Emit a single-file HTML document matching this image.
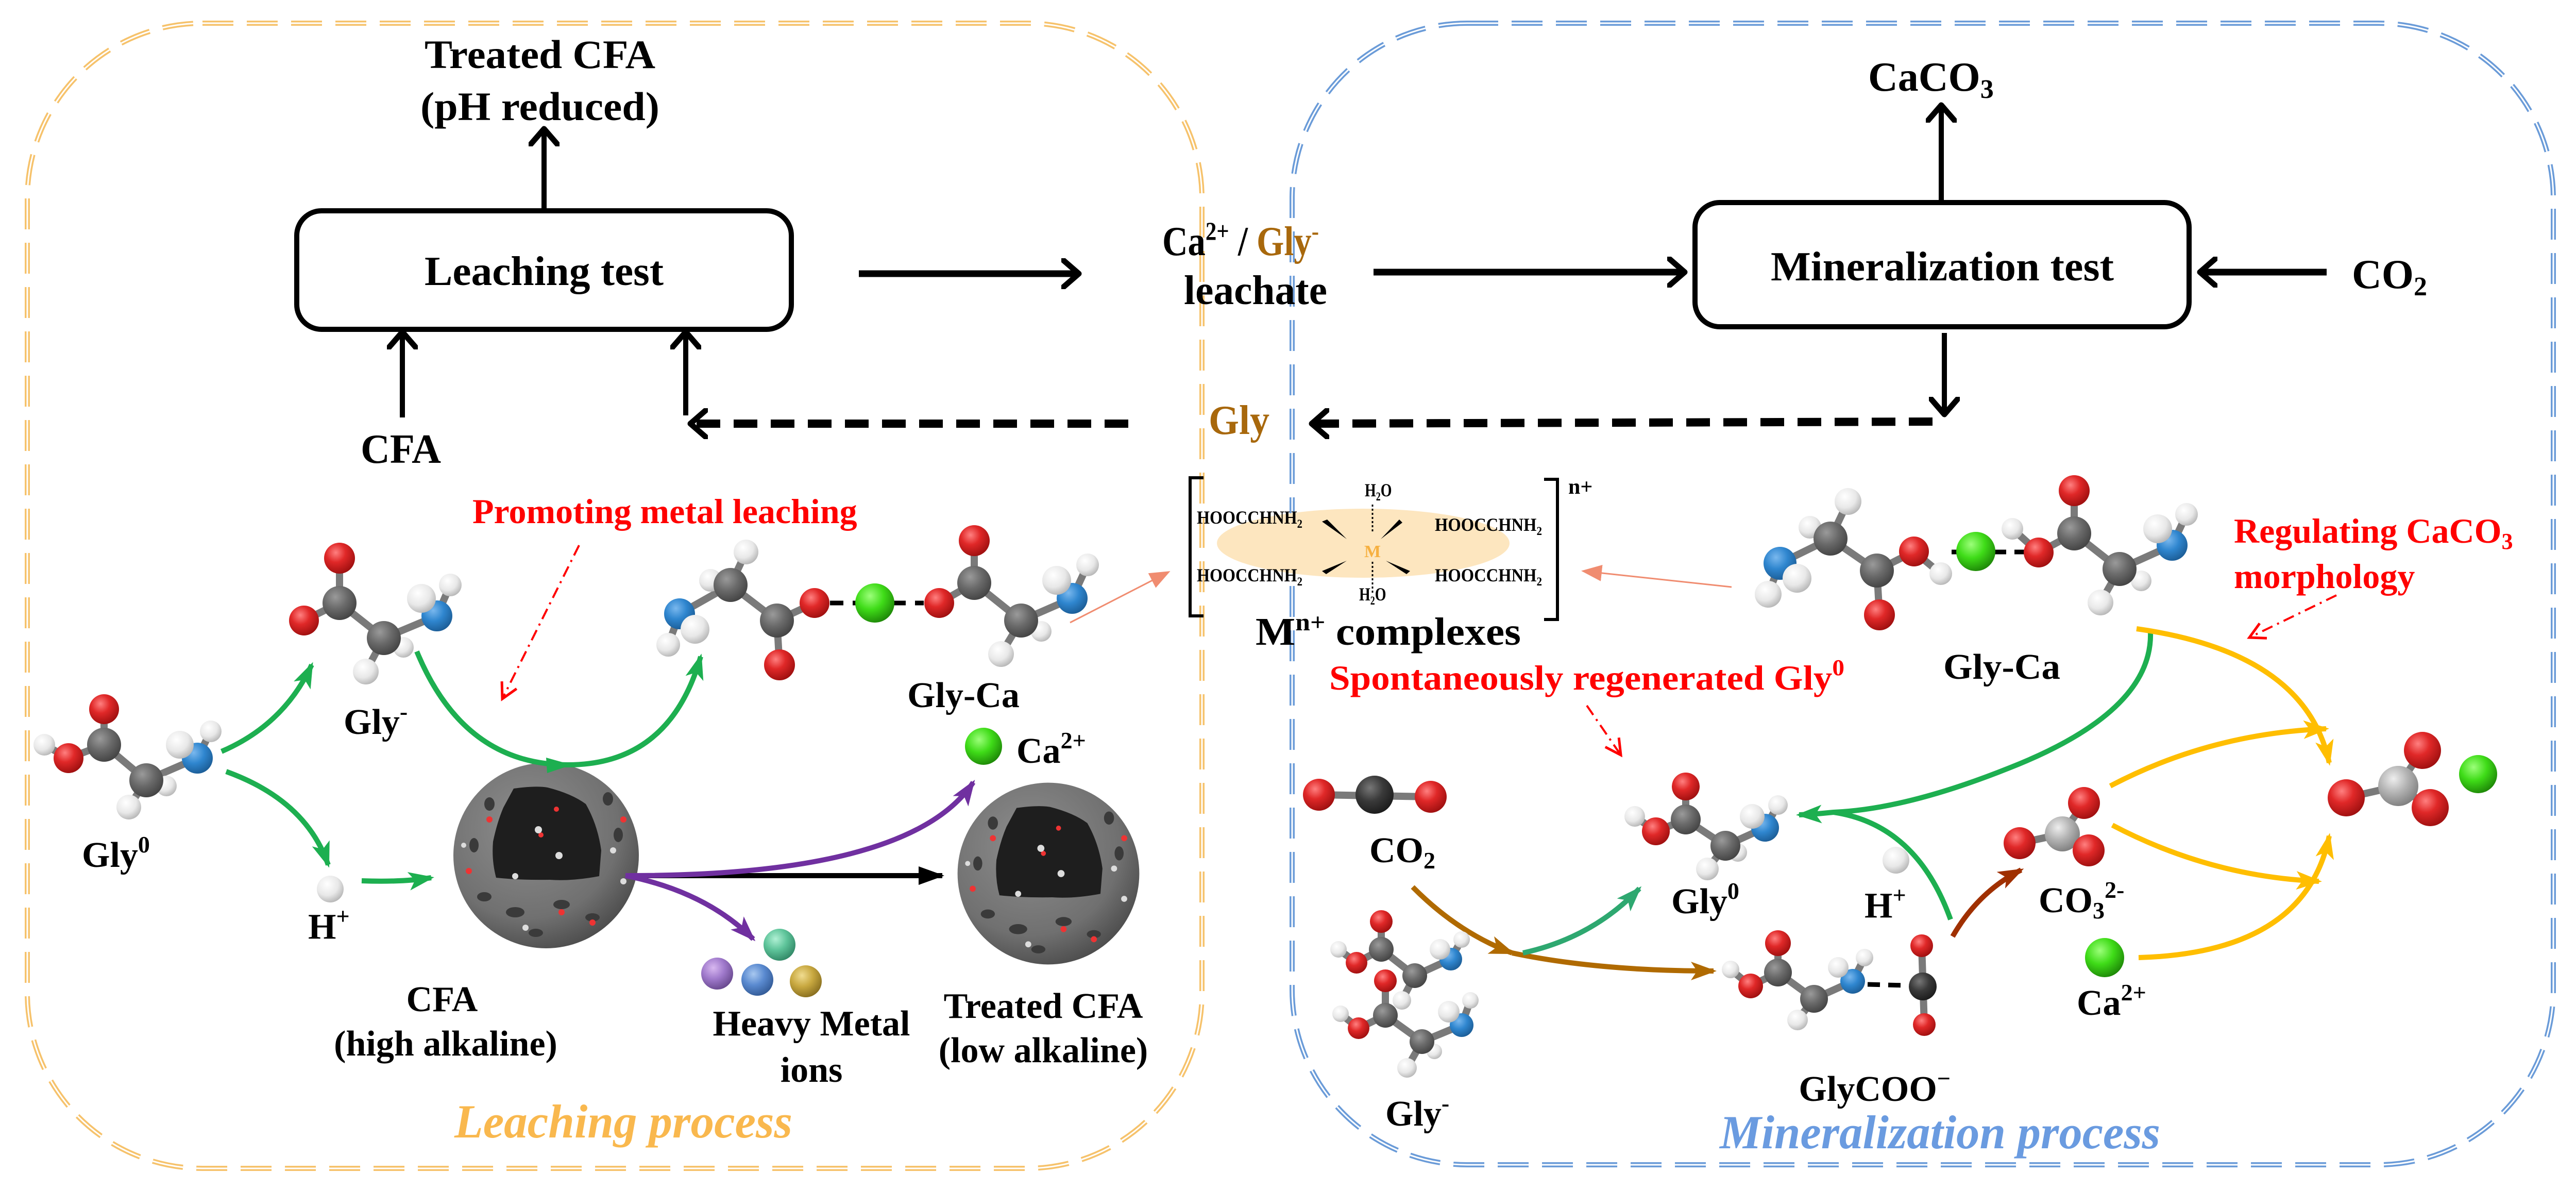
<!DOCTYPE html>
<html><head><meta charset="utf-8"><style>
html,body{margin:0;padding:0;background:#fff;}
svg{display:block;}
text{font-family:"Liberation Serif",serif;font-weight:bold;}
.b line{stroke:#7a7a7a;stroke-width:14;stroke-linecap:round;}
</style></head><body>
<svg width="5020" height="2307" viewBox="0 0 5020 2307" xmlns="http://www.w3.org/2000/svg">
<defs>
<radialGradient id="gR" cx="38%" cy="32%" r="70%"><stop offset="0" stop-color="#ff8080"/><stop offset=".45" stop-color="#e02828"/><stop offset="1" stop-color="#a01010"/></radialGradient>
<radialGradient id="gC" cx="38%" cy="32%" r="70%"><stop offset="0" stop-color="#9a9a9a"/><stop offset=".5" stop-color="#6a6a6a"/><stop offset="1" stop-color="#444"/></radialGradient>
<radialGradient id="gK" cx="38%" cy="32%" r="70%"><stop offset="0" stop-color="#777"/><stop offset=".5" stop-color="#3a3a3a"/><stop offset="1" stop-color="#1c1c1c"/></radialGradient>
<radialGradient id="gL" cx="38%" cy="32%" r="70%"><stop offset="0" stop-color="#eee"/><stop offset=".5" stop-color="#b4b4b4"/><stop offset="1" stop-color="#808080"/></radialGradient>
<radialGradient id="gN" cx="38%" cy="32%" r="70%"><stop offset="0" stop-color="#7ab8ee"/><stop offset=".5" stop-color="#2f86cf"/><stop offset="1" stop-color="#1c5e98"/></radialGradient>
<radialGradient id="gH" cx="38%" cy="32%" r="70%"><stop offset="0" stop-color="#fff"/><stop offset=".6" stop-color="#e8e8e8"/><stop offset="1" stop-color="#b8b8b8"/></radialGradient>
<radialGradient id="gG" cx="38%" cy="32%" r="70%"><stop offset="0" stop-color="#9cff7a"/><stop offset=".5" stop-color="#3fdc18"/><stop offset="1" stop-color="#1f8a08"/></radialGradient>
<radialGradient id="gP" cx="38%" cy="32%" r="70%"><stop offset="0" stop-color="#d8b8f0"/><stop offset=".5" stop-color="#a07acc"/><stop offset="1" stop-color="#6a4a90"/></radialGradient>
<radialGradient id="gT" cx="38%" cy="32%" r="70%"><stop offset="0" stop-color="#b0f0d4"/><stop offset=".5" stop-color="#5ec49a"/><stop offset="1" stop-color="#338a68"/></radialGradient>
<radialGradient id="gB" cx="38%" cy="32%" r="70%"><stop offset="0" stop-color="#a8c8f0"/><stop offset=".5" stop-color="#5a8ad0"/><stop offset="1" stop-color="#345c98"/></radialGradient>
<radialGradient id="gY" cx="38%" cy="32%" r="70%"><stop offset="0" stop-color="#f0dc90"/><stop offset=".5" stop-color="#c8a840"/><stop offset="1" stop-color="#8a7020"/></radialGradient>
<radialGradient id="gS" cx="40%" cy="35%" r="70%"><stop offset="0" stop-color="#8e8e8e"/><stop offset=".7" stop-color="#707070"/><stop offset="1" stop-color="#4a4a4a"/></radialGradient>
<marker id="chev" markerUnits="userSpaceOnUse" viewBox="0 0 40 60" refX="34" refY="30" markerWidth="40" markerHeight="60" orient="auto"><path d="M4,4 L34,30 L4,56" fill="none" stroke="#000" stroke-width="11" stroke-linecap="round" stroke-linejoin="round"/></marker>
<marker id="aK" markerUnits="userSpaceOnUse" viewBox="0 0 50 40" refX="46" refY="20" markerWidth="50" markerHeight="40" orient="auto"><path d="M0,2 L50,20 L0,38 Z" fill="#000"/></marker>
<marker id="aG" markerUnits="userSpaceOnUse" viewBox="0 0 50 40" refX="44" refY="20" markerWidth="50" markerHeight="40" orient="auto"><path d="M0,2 L50,20 L0,38 L12,20 Z" fill="#1daf50"/></marker>
<marker id="aT" markerUnits="userSpaceOnUse" viewBox="0 0 50 40" refX="44" refY="20" markerWidth="50" markerHeight="40" orient="auto"><path d="M0,2 L50,20 L0,38 L12,20 Z" fill="#2ea870"/></marker>
<marker id="aP" markerUnits="userSpaceOnUse" viewBox="0 0 50 40" refX="44" refY="20" markerWidth="50" markerHeight="40" orient="auto"><path d="M0,2 L50,20 L0,38 L12,20 Z" fill="#7030a0"/></marker>
<marker id="aY" markerUnits="userSpaceOnUse" viewBox="0 0 50 40" refX="44" refY="20" markerWidth="50" markerHeight="40" orient="auto"><path d="M0,2 L50,20 L0,38 L12,20 Z" fill="#ffbe00"/></marker>
<marker id="aO" markerUnits="userSpaceOnUse" viewBox="0 0 50 40" refX="44" refY="20" markerWidth="50" markerHeight="40" orient="auto"><path d="M0,2 L50,20 L0,38 L12,20 Z" fill="#b06a00"/></marker>
<marker id="aD" markerUnits="userSpaceOnUse" viewBox="0 0 50 40" refX="44" refY="20" markerWidth="50" markerHeight="40" orient="auto"><path d="M0,2 L50,20 L0,38 L12,20 Z" fill="#a03000"/></marker>
<marker id="aS" markerUnits="userSpaceOnUse" viewBox="0 0 40 40" refX="36" refY="20" markerWidth="40" markerHeight="40" orient="auto"><path d="M0,4 L40,20 L0,36 Z" fill="#f08c70"/></marker>
<marker id="aR" markerUnits="userSpaceOnUse" viewBox="0 0 40 40" refX="34" refY="20" markerWidth="40" markerHeight="40" orient="auto"><path d="M4,4 L34,20 L4,36" fill="none" stroke="#f00" stroke-width="5"/></marker>
<g id="sph">
<circle cx="0" cy="0" r="180" fill="url(#gS)"/>
<path d="M-63,-130 Q-20,-136 3,-132 Q50,-120 77,-100 Q100,-60 107,-10 L103,40 Q50,50 7,47 Q-50,48 -97,43 Q-106,10 -103,-27 Q-95,-65 -83,-93 Z" fill="#1e1e1e"/>
<g fill="#3a3a3a"><ellipse cx="-120" cy="80" rx="14" ry="9"/><ellipse cx="-60" cy="110" rx="18" ry="10"/><ellipse cx="30" cy="95" rx="16" ry="9"/><ellipse cx="90" cy="120" rx="14" ry="8"/><ellipse cx="-140" cy="-20" rx="9" ry="14"/><ellipse cx="140" cy="-40" rx="9" ry="14"/><ellipse cx="120" cy="-110" rx="10" ry="13"/><ellipse cx="-110" cy="-100" rx="10" ry="13"/><ellipse cx="-20" cy="150" rx="14" ry="8"/></g>
<g fill="#e33"><circle cx="-110" cy="-70" r="6"/><circle cx="150" cy="-70" r="6"/><circle cx="-150" cy="30" r="6"/><circle cx="30" cy="110" r="6"/><circle cx="-10" cy="-40" r="5"/><circle cx="20" cy="-90" r="5"/><circle cx="90" cy="130" r="6"/></g>
<g fill="#ddd"><circle cx="-15" cy="-50" r="7"/><circle cx="25" cy="0" r="7"/><circle cx="-60" cy="40" r="6"/><circle cx="130" cy="-10" r="6"/><circle cx="-40" cy="140" r="6"/><circle cx="150" cy="50" r="6"/><circle cx="-160" cy="-20" r="5"/></g>
</g>
</defs>

<!-- Region frames -->
<g fill="none">
<rect x="53" y="45" width="2280" height="2222" rx="340" stroke="#f6c26b" stroke-width="10" stroke-dasharray="60 26"/>
<rect x="53" y="45" width="2280" height="2222" rx="340" stroke="#fff" stroke-width="3" stroke-dasharray="60 26"/>
<rect x="2508" y="45" width="2448" height="2215" rx="340" stroke="#6a9bd8" stroke-width="10" stroke-dasharray="60 26"/>
<rect x="2508" y="45" width="2448" height="2215" rx="340" stroke="#fff" stroke-width="3" stroke-dasharray="60 26"/>
</g>

<!-- Top flow -->
<rect x="576" y="409" width="960" height="230" rx="48" fill="none" stroke="#000" stroke-width="10"/>
<text x="1056" y="553" font-size="80" text-anchor="middle" textLength="464" lengthAdjust="spacingAndGlyphs">Leaching test</text>
<text x="1048" y="132" font-size="78" text-anchor="middle" textLength="448" lengthAdjust="spacingAndGlyphs">Treated CFA</text>
<text x="1048" y="233" font-size="78" text-anchor="middle" textLength="464" lengthAdjust="spacingAndGlyphs">(pH reduced)</text>
<g stroke="#000" stroke-width="10" fill="none">
<line x1="1056" y1="409" x2="1056" y2="250" marker-end="url(#chev)"/>
<line x1="781" y1="810" x2="781" y2="644" marker-end="url(#chev)"/>
<line x1="1331" y1="806" x2="1331" y2="644" marker-end="url(#chev)"/>
<line x1="1667" y1="531" x2="2094" y2="531" stroke-width="13" marker-end="url(#chev)"/>
<line x1="2666" y1="528" x2="3270" y2="528" stroke-width="13" marker-end="url(#chev)"/>
<line x1="4516" y1="528" x2="4270" y2="528" stroke-width="13" marker-end="url(#chev)"/>
<line x1="3768" y1="393" x2="3768" y2="204" marker-end="url(#chev)"/>
<line x1="3774" y1="646" x2="3774" y2="804" marker-end="url(#chev)"/>
<line x1="3751" y1="818" x2="2546" y2="822" stroke-width="16" stroke-dasharray="46 26" marker-end="url(#chev)"/>
<line x1="2190" y1="822" x2="1340" y2="822" stroke-width="16" stroke-dasharray="46 26" marker-end="url(#chev)"/>
</g>
<text x="778" y="898" font-size="80" text-anchor="middle" textLength="156" lengthAdjust="spacingAndGlyphs">CFA</text>
<text x="2256" y="495" font-size="80" textLength="304" lengthAdjust="spacingAndGlyphs">Ca<tspan font-size="50" dy="-30">2+</tspan><tspan dy="30"> / </tspan><tspan fill="#a8680c">Gly</tspan><tspan font-size="50" dy="-30" fill="#a8680c">-</tspan></text>
<text x="2298" y="590" font-size="80" textLength="278" lengthAdjust="spacingAndGlyphs">leachate</text>
<text x="2346" y="842" font-size="80" fill="#a8680c" textLength="118" lengthAdjust="spacingAndGlyphs">Gly</text>
<rect x="3290" y="393" width="959" height="241" rx="48" fill="none" stroke="#000" stroke-width="10"/>
<text x="3770" y="544" font-size="80" text-anchor="middle" textLength="666" lengthAdjust="spacingAndGlyphs">Mineralization test</text>
<text x="3626" y="176" font-size="80">CaCO<tspan font-size="52" dy="14">3</tspan></text>
<text x="4565" y="559" font-size="80">CO<tspan font-size="52" dy="14">2</tspan></text>

<!-- Complex -->
<ellipse cx="2646" cy="1054" rx="284" ry="67" fill="#fde6bf"/>
<g fill="none" stroke="#000" stroke-width="6">
<path d="M2336,927 L2310,927 L2310,1195 L2336,1195"/>
<path d="M2997,930 L3023,930 L3023,1202 L2997,1202"/>
</g>
<g stroke="#000" stroke-width="3" stroke-dasharray="4 4"><line x1="2664" y1="979" x2="2664" y2="1032"/><line x1="2664" y1="1090" x2="2664" y2="1153"/></g>
<g fill="#000">
<path d="M2566,1012 L2614,1046 L2576,1008 Z"/>
<path d="M2722,1014 L2680,1046 L2716,1008 Z"/>
<path d="M2566,1108 L2614,1088 L2574,1114 Z"/>
<path d="M2737,1108 L2690,1088 L2730,1114 Z"/>
</g>
<g font-size="28">
<text transform="translate(2323,1016) scale(1,1.3)" textLength="205" lengthAdjust="spacingAndGlyphs">HOOCCHNH<tspan font-size="18" dy="6">2</tspan></text>
<text transform="translate(2323,1128) scale(1,1.3)" textLength="205" lengthAdjust="spacingAndGlyphs">HOOCCHNH<tspan font-size="18" dy="6">2</tspan></text>
<text transform="translate(2785,1030) scale(1,1.3)" textLength="208" lengthAdjust="spacingAndGlyphs">HOOCCHNH<tspan font-size="18" dy="6">2</tspan></text>
<text transform="translate(2785,1128) scale(1,1.3)" textLength="208" lengthAdjust="spacingAndGlyphs">HOOCCHNH<tspan font-size="18" dy="6">2</tspan></text>
<text transform="translate(2649,963) scale(1,1.3)">H<tspan font-size="18" dy="6">2</tspan><tspan dy="-6">O</tspan></text>
<text transform="translate(2638,1165) scale(1,1.3)">H<tspan font-size="18" dy="6">2</tspan><tspan dy="-6">O</tspan></text>
</g>
<text x="2664" y="1081" font-size="34" fill="#f6b040" text-anchor="middle">M</text>
<text x="3044" y="958" font-size="42">n+</text>
<text x="2437" y="1251" font-size="76" textLength="515" lengthAdjust="spacingAndGlyphs">M<tspan font-size="48" dy="-28">n+</tspan><tspan dy="28"> complexes</tspan></text>
<line x1="2077" y1="1208" x2="2268" y2="1110" stroke="#f08c70" stroke-width="3" marker-end="url(#aS)"/>
<line x1="3361" y1="1139" x2="3073" y2="1108" stroke="#f08c70" stroke-width="3" marker-end="url(#aS)"/>

<!-- Red annotations -->
<g fill="#f00">
<text x="917" y="1015" font-size="68">Promoting metal leaching</text>
<text x="2580" y="1338" font-size="68" textLength="1000" lengthAdjust="spacingAndGlyphs">Spontaneously regenerated Gly<tspan font-size="44" dy="-28">0</tspan></text>
<text x="4336" y="1053" font-size="68">Regulating CaCO<tspan font-size="44" dy="12">3</tspan></text>
<text x="4336" y="1141" font-size="68">morphology</text>
</g>
<g stroke="#f00" stroke-width="4" fill="none" stroke-dasharray="22 10 4 10">
<line x1="1124" y1="1058" x2="975" y2="1356" marker-end="url(#aR)"/>
<line x1="3080" y1="1369" x2="3146" y2="1465" marker-end="url(#aR)"/>
<line x1="4535" y1="1155" x2="4366" y2="1237" marker-end="url(#aR)"/>
</g>

<!-- Process labels -->
<text x="882" y="2207" font-size="92" font-style="italic" fill="#f9b84e" textLength="656" lengthAdjust="spacingAndGlyphs">Leaching process</text>
<text x="3338" y="2228" font-size="92" font-style="italic" fill="#6a9be0" textLength="855" lengthAdjust="spacingAndGlyphs">Mineralization process</text>

<!-- Left: spheres -->
<use href="#sph" x="1060" y="1660"/>
<use href="#sph" transform="translate(2035,1695) scale(0.98)"/>

<!-- Left arrows -->
<g fill="none" stroke-width="10">
<path d="M430,1458 Q551,1406 605,1290" stroke="#1daf50" marker-end="url(#aG)"/>
<path d="M439,1497 Q594,1553 637,1678" stroke="#1daf50" marker-end="url(#aG)"/>
<path d="M702,1709 Q780,1712 837,1703" stroke="#1daf50" marker-end="url(#aG)"/>
<path d="M809,1264 Q900,1484 1102,1484 Q1300,1484 1360,1274" stroke="#1daf50" marker-end="url(#aG)"/>
<path d="M1240,1699 L1829,1699" stroke="#000" marker-end="url(#aK)"/>
<path d="M1214,1699 Q1767,1700 1889,1518" stroke="#7030a0" marker-end="url(#aP)"/>
<path d="M1214,1699 Q1370,1730 1462,1822" stroke="#7030a0" marker-end="url(#aP)"/>
</g>
<path d="M1060,1470 L1110,1484 L1062,1500 Z" fill="#1daf50"/>

<!-- Left molecules -->
<g class="b">
<line x1="202" y1="1376" x2="202" y2="1445"/><line x1="202" y1="1445" x2="133" y2="1471"/><line x1="133" y1="1471" x2="86" y2="1445"/><line x1="202" y1="1445" x2="284" y2="1514"/><line x1="284" y1="1514" x2="250" y2="1566"/><line x1="284" y1="1514" x2="323" y2="1525"/><line x1="284" y1="1514" x2="383" y2="1471"/><line x1="383" y1="1471" x2="349" y2="1445"/><line x1="383" y1="1471" x2="409" y2="1419"/>
<line x1="659" y1="1083" x2="659" y2="1170"/><line x1="659" y1="1170" x2="590" y2="1204"/><line x1="659" y1="1170" x2="745" y2="1238"/><line x1="745" y1="1238" x2="710" y2="1303"/><line x1="745" y1="1238" x2="783" y2="1256"/><line x1="745" y1="1238" x2="848" y2="1195"/><line x1="848" y1="1195" x2="818" y2="1161"/><line x1="848" y1="1195" x2="874" y2="1135"/>
<line x1="1319" y1="1191" x2="1418" y2="1135"/><line x1="1319" y1="1191" x2="1297" y2="1251"/><line x1="1319" y1="1191" x2="1349" y2="1221"/><line x1="1418" y1="1135" x2="1448" y2="1071"/><line x1="1418" y1="1135" x2="1379" y2="1126"/><line x1="1418" y1="1135" x2="1508" y2="1204"/><line x1="1508" y1="1204" x2="1513" y2="1290"/><line x1="1508" y1="1204" x2="1581" y2="1170"/>
<line x1="1823" y1="1170" x2="1891" y2="1131"/><line x1="1891" y1="1131" x2="1891" y2="1049"/><line x1="1891" y1="1131" x2="1982" y2="1204"/><line x1="1982" y1="1204" x2="1943" y2="1269"/><line x1="1982" y1="1204" x2="2021" y2="1225"/><line x1="1982" y1="1204" x2="2081" y2="1161"/><line x1="2081" y1="1161" x2="2051" y2="1126"/><line x1="2081" y1="1161" x2="2111" y2="1096"/>
</g>
<g stroke="#000" stroke-width="9" stroke-dasharray="26 18"><line x1="1611" y1="1170" x2="1664" y2="1170"/><line x1="1732" y1="1170" x2="1793" y2="1170"/></g>
<g>
<circle cx="86" cy="1445" r="21" fill="url(#gH)"/><circle cx="133" cy="1471" r="29" fill="url(#gR)"/><circle cx="202" cy="1376" r="29" fill="url(#gR)"/><circle cx="202" cy="1445" r="33" fill="url(#gC)"/><circle cx="250" cy="1566" r="24" fill="url(#gH)"/><circle cx="323" cy="1525" r="20" fill="url(#gH)"/><circle cx="284" cy="1514" r="33" fill="url(#gC)"/><circle cx="409" cy="1419" r="21" fill="url(#gH)"/><circle cx="383" cy="1471" r="30" fill="url(#gN)"/><circle cx="349" cy="1445" r="27" fill="url(#gH)"/>
<circle cx="659" cy="1083" r="30" fill="url(#gR)"/><circle cx="590" cy="1204" r="29" fill="url(#gR)"/><circle cx="659" cy="1170" r="33" fill="url(#gC)"/><circle cx="710" cy="1303" r="25" fill="url(#gH)"/><circle cx="783" cy="1256" r="20" fill="url(#gH)"/><circle cx="745" cy="1238" r="33" fill="url(#gC)"/><circle cx="874" cy="1135" r="22" fill="url(#gH)"/><circle cx="848" cy="1195" r="30" fill="url(#gN)"/><circle cx="818" cy="1161" r="28" fill="url(#gH)"/>
<circle cx="1448" cy="1071" r="24" fill="url(#gH)"/><circle cx="1379" cy="1126" r="22" fill="url(#gH)"/><circle cx="1418" cy="1135" r="33" fill="url(#gC)"/><circle cx="1319" cy="1191" r="30" fill="url(#gN)"/><circle cx="1297" cy="1251" r="23" fill="url(#gH)"/><circle cx="1349" cy="1221" r="28" fill="url(#gH)"/><circle cx="1508" cy="1204" r="33" fill="url(#gC)"/><circle cx="1513" cy="1290" r="30" fill="url(#gR)"/><circle cx="1581" cy="1170" r="29" fill="url(#gR)"/>
<circle cx="1698" cy="1170" r="38" fill="url(#gG)"/>
<circle cx="1823" cy="1170" r="29" fill="url(#gR)"/><circle cx="1891" cy="1049" r="30" fill="url(#gR)"/><circle cx="1891" cy="1131" r="33" fill="url(#gC)"/><circle cx="1943" cy="1269" r="25" fill="url(#gH)"/><circle cx="2021" cy="1225" r="20" fill="url(#gH)"/><circle cx="1982" cy="1204" r="33" fill="url(#gC)"/><circle cx="2111" cy="1096" r="22" fill="url(#gH)"/><circle cx="2081" cy="1161" r="30" fill="url(#gN)"/><circle cx="2051" cy="1126" r="28" fill="url(#gH)"/>
<circle cx="641" cy="1725" r="26" fill="url(#gH)"/>
<circle cx="1909" cy="1448" r="36" fill="url(#gG)"/>
<circle cx="1513" cy="1833" r="31" fill="url(#gT)"/><circle cx="1392" cy="1889" r="31" fill="url(#gP)"/><circle cx="1470" cy="1901" r="31" fill="url(#gB)"/><circle cx="1564" cy="1904" r="31" fill="url(#gY)"/>
</g>

<!-- Left labels -->
<g font-size="70">
<text x="159" y="1682">Gly<tspan font-size="46" dy="-28">0</tspan></text>
<text x="667" y="1424">Gly<tspan font-size="46" dy="-28">-</tspan></text>
<text x="598" y="1821">H<tspan font-size="46" dy="-28">+</tspan></text>
<text x="858" y="1962" text-anchor="middle">CFA</text>
<text x="865" y="2048" text-anchor="middle">(high alkaline)</text>
<text x="1870" y="1372" text-anchor="middle">Gly-Ca</text>
<text x="1973" y="1480">Ca<tspan font-size="46" dy="-28">2+</tspan></text>
<text x="1575" y="2009" text-anchor="middle">Heavy Metal</text>
<text x="1575" y="2099" text-anchor="middle">ions</text>
<text x="2025" y="1975" text-anchor="middle">Treated CFA</text>
<text x="2025" y="2061" text-anchor="middle">(low alkaline)</text>
</g>

<!-- Right arrows -->
<g fill="none" stroke-width="10">
<path d="M2742,1721 Q2830,1810 2935,1849" stroke="#b06a00" marker-end="url(#aO)"/>
<path d="M2935,1849 Q3100,1884 3326,1884" stroke="#b06a00" marker-end="url(#aO)"/>
<path d="M2956,1849 Q3090,1820 3182,1724" stroke="#2ea870" marker-end="url(#aT)"/>
<path d="M4174,1225 Q4180,1380 3900,1490 Q3700,1570 3559,1576 Q3520,1580 3492,1581" stroke="#1daf50" marker-end="url(#aG)"/>
<path d="M3786,1784 Q3720,1600 3559,1576" stroke="#1daf50"/>
<path d="M3790,1817 Q3840,1730 3923,1688" stroke="#a03000" marker-end="url(#aD)"/>
<path d="M4147,1220 Q4475,1266 4521,1480" stroke="#ffbe00" marker-end="url(#aY)"/>
<path d="M4096,1525 Q4290,1423 4515,1414" stroke="#ffbe00" marker-end="url(#aY)"/>
<path d="M4100,1601 Q4290,1701 4501,1710" stroke="#ffbe00" marker-end="url(#aY)"/>
<path d="M4151,1858 Q4475,1849 4521,1622" stroke="#ffbe00" marker-end="url(#aY)"/>
</g>

<!-- Right molecules -->
<g class="b">
<line x1="2560" y1="1542" x2="2777" y2="1546" stroke="#c03030"/>
<line x1="3272" y1="1526" x2="3272" y2="1590"/><line x1="3272" y1="1590" x2="3214" y2="1613"/><line x1="3214" y1="1613" x2="3173" y2="1584"/><line x1="3272" y1="1590" x2="3349" y2="1641"/><line x1="3349" y1="1641" x2="3314" y2="1686"/><line x1="3349" y1="1641" x2="3373" y2="1654"/><line x1="3349" y1="1641" x2="3426" y2="1606"/><line x1="3426" y1="1606" x2="3401" y2="1584"/><line x1="3426" y1="1606" x2="3451" y2="1562"/>
<line x1="2681" y1="1788" x2="2681" y2="1842"/><line x1="2681" y1="1842" x2="2633" y2="1868"/><line x1="2633" y1="1868" x2="2598" y2="1842"/><line x1="2681" y1="1842" x2="2746" y2="1893"/><line x1="2746" y1="1893" x2="2721" y2="1941"/><line x1="2746" y1="1893" x2="2816" y2="1861"/><line x1="2816" y1="1861" x2="2795" y2="1842"/><line x1="2816" y1="1861" x2="2837" y2="1823"/>
<line x1="2689" y1="1903" x2="2689" y2="1970"/><line x1="2689" y1="1970" x2="2637" y2="1995"/><line x1="2637" y1="1995" x2="2602" y2="1967"/><line x1="2689" y1="1970" x2="2760" y2="2021"/><line x1="2760" y1="2021" x2="2731" y2="2072"/><line x1="2760" y1="2021" x2="2784" y2="2040"/><line x1="2760" y1="2021" x2="2837" y2="1989"/><line x1="2837" y1="1989" x2="2812" y2="1963"/><line x1="2837" y1="1989" x2="2854" y2="1941"/>
<line x1="3451" y1="1830" x2="3451" y2="1887"/><line x1="3451" y1="1887" x2="3398" y2="1913"/><line x1="3398" y1="1913" x2="3359" y2="1881"/><line x1="3451" y1="1887" x2="3521" y2="1938"/><line x1="3521" y1="1938" x2="3489" y2="1979"/><line x1="3521" y1="1938" x2="3596" y2="1904"/><line x1="3596" y1="1904" x2="3568" y2="1877"/><line x1="3596" y1="1904" x2="3619" y2="1858"/>
<line x1="3730" y1="1835" x2="3735" y2="1988" stroke="#c03030"/>
<line x1="3455" y1="1093" x2="3553" y2="1045"/><line x1="3455" y1="1093" x2="3432" y2="1153"/><line x1="3455" y1="1093" x2="3488" y2="1122"/><line x1="3553" y1="1045" x2="3587" y2="973"/><line x1="3553" y1="1045" x2="3513" y2="1023"/><line x1="3553" y1="1045" x2="3643" y2="1107"/><line x1="3643" y1="1107" x2="3648" y2="1193"/><line x1="3643" y1="1107" x2="3715" y2="1070"/><line x1="3715" y1="1070" x2="3767" y2="1113"/>
<line x1="3957" y1="1072" x2="3906" y2="1026"/><line x1="3957" y1="1072" x2="4026" y2="1035"/><line x1="4026" y1="1035" x2="4026" y2="952"/><line x1="4026" y1="1035" x2="4114" y2="1104"/><line x1="4114" y1="1104" x2="4077" y2="1169"/><line x1="4114" y1="1104" x2="4156" y2="1127"/><line x1="4114" y1="1104" x2="4216" y2="1058"/><line x1="4216" y1="1058" x2="4188" y2="1026"/><line x1="4216" y1="1058" x2="4244" y2="998"/>
<line x1="4003" y1="1618" x2="4045" y2="1558" stroke="#c03030"/><line x1="4003" y1="1618" x2="3920" y2="1636" stroke="#c03030"/><line x1="4003" y1="1618" x2="4054" y2="1650" stroke="#c03030"/>
<line x1="4655" y1="1525" x2="4702" y2="1456" stroke="#c03030"/><line x1="4655" y1="1525" x2="4554" y2="1548" stroke="#c03030"/><line x1="4655" y1="1525" x2="4717" y2="1567" stroke="#c03030"/>
</g>
<g stroke="#000" stroke-width="9" stroke-dasharray="24 16"><line x1="3625" y1="1910" x2="3700" y2="1912"/><line x1="3795" y1="1071" x2="3800" y2="1071"/><line x1="3870" y1="1071" x2="3930" y2="1071"/></g>
<line x1="3788" y1="1071" x2="3797" y2="1071" stroke="#000" stroke-width="9"/>
<g>
<circle cx="2560" cy="1542" r="31" fill="url(#gR)"/><circle cx="2777" cy="1546" r="31" fill="url(#gR)"/><circle cx="2668" cy="1542" r="37" fill="url(#gK)"/>
<circle cx="3173" cy="1584" r="20" fill="url(#gH)"/><circle cx="3214" cy="1613" r="27" fill="url(#gR)"/><circle cx="3272" cy="1526" r="27" fill="url(#gR)"/><circle cx="3272" cy="1590" r="29" fill="url(#gC)"/><circle cx="3314" cy="1686" r="22" fill="url(#gH)"/><circle cx="3373" cy="1654" r="18" fill="url(#gH)"/><circle cx="3349" cy="1641" r="29" fill="url(#gC)"/><circle cx="3451" cy="1562" r="19" fill="url(#gH)"/><circle cx="3426" cy="1606" r="27" fill="url(#gN)"/><circle cx="3401" cy="1584" r="24" fill="url(#gH)"/>
<circle cx="2598" cy="1842" r="16" fill="url(#gH)"/><circle cx="2633" cy="1868" r="21" fill="url(#gR)"/><circle cx="2681" cy="1788" r="22" fill="url(#gR)"/><circle cx="2681" cy="1842" r="24" fill="url(#gC)"/><circle cx="2721" cy="1941" r="18" fill="url(#gH)"/><circle cx="2746" cy="1893" r="24" fill="url(#gC)"/><circle cx="2837" cy="1823" r="16" fill="url(#gH)"/><circle cx="2816" cy="1861" r="22" fill="url(#gN)"/><circle cx="2795" cy="1842" r="20" fill="url(#gH)"/>
<circle cx="2602" cy="1967" r="16" fill="url(#gH)"/><circle cx="2637" cy="1995" r="21" fill="url(#gR)"/><circle cx="2689" cy="1903" r="22" fill="url(#gR)"/><circle cx="2689" cy="1970" r="24" fill="url(#gC)"/><circle cx="2731" cy="2072" r="19" fill="url(#gH)"/><circle cx="2784" cy="2040" r="15" fill="url(#gH)"/><circle cx="2760" cy="2021" r="24" fill="url(#gC)"/><circle cx="2854" cy="1941" r="16" fill="url(#gH)"/><circle cx="2837" cy="1989" r="23" fill="url(#gN)"/><circle cx="2812" cy="1963" r="21" fill="url(#gH)"/>
<circle cx="3359" cy="1881" r="17" fill="url(#gH)"/><circle cx="3398" cy="1913" r="24" fill="url(#gR)"/><circle cx="3451" cy="1830" r="25" fill="url(#gR)"/><circle cx="3451" cy="1887" r="27" fill="url(#gC)"/><circle cx="3489" cy="1979" r="20" fill="url(#gH)"/><circle cx="3521" cy="1938" r="27" fill="url(#gC)"/><circle cx="3619" cy="1858" r="17" fill="url(#gH)"/><circle cx="3596" cy="1904" r="24" fill="url(#gN)"/><circle cx="3568" cy="1877" r="20" fill="url(#gH)"/>
<circle cx="3730" cy="1835" r="22" fill="url(#gR)"/><circle cx="3735" cy="1988" r="22" fill="url(#gR)"/><circle cx="3732" cy="1914" r="27" fill="url(#gK)"/>
<circle cx="3587" cy="973" r="26" fill="url(#gH)"/><circle cx="3513" cy="1023" r="22" fill="url(#gH)"/><circle cx="3553" cy="1045" r="33" fill="url(#gC)"/><circle cx="3455" cy="1093" r="32" fill="url(#gN)"/><circle cx="3432" cy="1153" r="26" fill="url(#gH)"/><circle cx="3488" cy="1122" r="28" fill="url(#gH)"/><circle cx="3643" cy="1107" r="33" fill="url(#gC)"/><circle cx="3648" cy="1193" r="30" fill="url(#gR)"/><circle cx="3715" cy="1070" r="29" fill="url(#gR)"/><circle cx="3767" cy="1113" r="22" fill="url(#gH)"/>
<circle cx="3835" cy="1070" r="38" fill="url(#gG)"/>
<circle cx="3906" cy="1026" r="21" fill="url(#gH)"/><circle cx="3957" cy="1072" r="29" fill="url(#gR)"/><circle cx="4026" cy="952" r="30" fill="url(#gR)"/><circle cx="4026" cy="1035" r="33" fill="url(#gC)"/><circle cx="4077" cy="1169" r="25" fill="url(#gH)"/><circle cx="4156" cy="1127" r="20" fill="url(#gH)"/><circle cx="4114" cy="1104" r="33" fill="url(#gC)"/><circle cx="4244" cy="998" r="22" fill="url(#gH)"/><circle cx="4216" cy="1058" r="30" fill="url(#gN)"/><circle cx="4188" cy="1026" r="28" fill="url(#gH)"/>
<circle cx="3680" cy="1669" r="26" fill="url(#gH)"/>
<circle cx="4045" cy="1558" r="31" fill="url(#gR)"/><circle cx="3920" cy="1636" r="31" fill="url(#gR)"/><circle cx="4003" cy="1618" r="34" fill="url(#gL)"/><circle cx="4054" cy="1650" r="31" fill="url(#gR)"/>
<circle cx="4085" cy="1858" r="38" fill="url(#gG)"/>
<circle cx="4702" cy="1456" r="36" fill="url(#gR)"/><circle cx="4554" cy="1548" r="36" fill="url(#gR)"/><circle cx="4655" cy="1525" r="39" fill="url(#gL)"/><circle cx="4717" cy="1567" r="36" fill="url(#gR)"/>
<circle cx="4810" cy="1502" r="37" fill="url(#gG)"/>
</g>

<!-- Right labels -->
<g font-size="70">
<text x="2658" y="1673">CO<tspan font-size="46" dy="12">2</tspan></text>
<text x="3244" y="1772">Gly<tspan font-size="46" dy="-28">0</tspan></text>
<text x="2689" y="2184">Gly<tspan font-size="46" dy="-28">-</tspan></text>
<text x="3786" y="2136" text-anchor="end">GlyCOO<tspan font-size="46" dy="-28">−</tspan></text>
<text x="3772" y="1317" textLength="227" lengthAdjust="spacingAndGlyphs">Gly-Ca</text>
<text x="3619" y="1780">H<tspan font-size="46" dy="-28">+</tspan></text>
<text x="3957" y="1770">CO<tspan font-size="46" dy="12">3</tspan><tspan font-size="46" dy="-40">2-</tspan></text>
<text x="4031" y="1969">Ca<tspan font-size="46" dy="-28">2+</tspan></text>
</g>
</svg>
</body></html>
